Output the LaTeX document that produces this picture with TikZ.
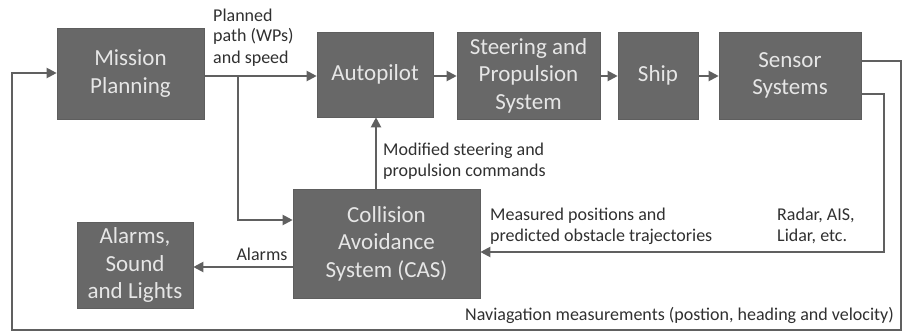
\documentclass[tikz,border=0pt]{standalone}
\usepackage{fontspec}
\setmainfont{Carlito}
\usetikzlibrary{arrows.meta,calc}
\definecolor{boxfill}{HTML}{686868}
\definecolor{boxtext}{HTML}{E6E6E6}
\definecolor{linecol}{HTML}{606060}
\definecolor{labcol}{HTML}{303030}
\tikzset{
  blk/.style={draw=boxfill!90!black, line width=0.6pt, fill=boxfill, text=boxtext, align=center, inner sep=0pt,
    font=\fontsize{23}{27.5}\selectfont},
  conn/.style={draw=linecol, line width=2pt, -{Triangle[length=10pt,width=10pt]}},
  lab/.style={text=labcol, align=left, inner sep=0pt, anchor=base west, font=\fontsize{18}{21}\selectfont}
}
\begin{document}
\begin{tikzpicture}[x=1pt,y=-1pt]
\useasboundingbox (0,0) rectangle (903,332);
\node[blk, minimum width=147pt, minimum height=91pt] (mp) at (130.5,73.5) {Mission\\Planning};
\node[blk, minimum width=116pt, minimum height=85pt] (ap) at (375,74.5) {Autopilot};
\node[blk, minimum width=143pt, minimum height=87pt] (sp) at (528.5,75.5) {Steering and\\Propulsion\\System};
\node[blk, minimum width=80pt, minimum height=87pt] (sh) at (658,75.5) {Ship};
\node[blk, minimum width=142pt, minimum height=87pt] (ss) at (790,75.5) {Sensor\\Systems};
\node[blk, minimum width=187pt, minimum height=109pt] (cas) at (386.5,243.5) {Collision\\Avoidance\\System (CAS)};
\node[blk, minimum width=116pt, minimum height=86pt] (al) at (135,265) {Alarms,\\Sound\\and Lights};

\coordinate (br) at (238,76);
\coordinate (r1) at (901,61);
\coordinate (r1b) at (901,330);
\coordinate (l1b) at (12,330);
\coordinate (l1t) at (12,73);
\coordinate (r2) at (884,94);
\coordinate (r2b) at (884,252);

\draw[conn] (mp.east |- br) -- (ap.west |- br);
\draw[conn] (br) -- (238,220) -- (cas.west |- 0,220);
\draw[conn] (cas.north -| 376,0) -- (ap.south -| 376,0);
\draw[conn] (ap.east |- 0,76) -- (sp.west |- 0,76);
\draw[conn] (sp.east |- 0,76) -- (sh.west |- 0,76);
\draw[conn] (sh.east |- 0,76) -- (ss.west |- 0,76);
\draw[conn] (ss.east |- r1) -- (r1) -- (r1b) -- (l1b) -- (l1t) -- (mp.west |- l1t);
\draw[conn] (ss.east |- r2) -- (r2) -- (r2b) -- (cas.east |- r2b);
\draw[conn] (cas.west |- 0,267) -- (al.east |- 0,267);

\node[lab] (t1) at (213,63) {Planned\\path (WPs)\\and speed};
\node[lab] (t2) at (383,176) {Modified steering and\\propulsion commands};
\node[lab] (t3) at (490,241) {Measured positions and\\predicted obstacle trajectories};
\node[lab] (t4) at (777,241) {Radar, AIS,\\Lidar, etc.};
\node[lab, anchor=base] (t5) at (262,260) {Alarms};
\node[lab] (t6) at (465,320) {Naviagation measurements (postion, heading and velocity)};
\end{tikzpicture}
\end{document}
